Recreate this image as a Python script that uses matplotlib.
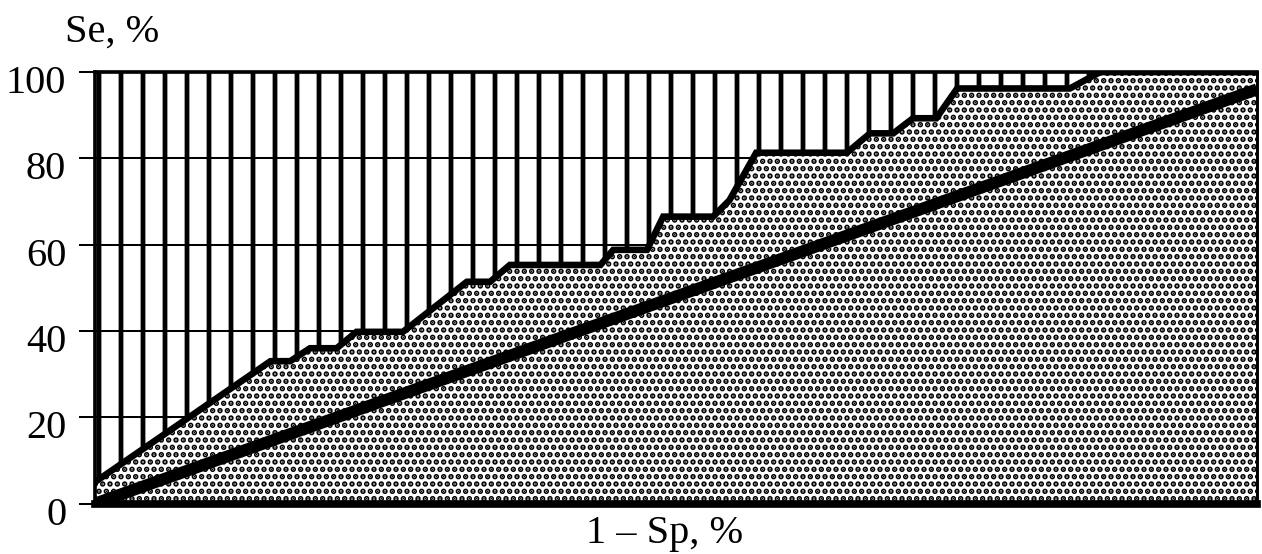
import numpy as np
import matplotlib
matplotlib.use('Agg')
import matplotlib.pyplot as plt
import matplotlib.transforms as mtransforms

plt.rcParams['font.family'] = ['Liberation Serif', 'DejaVu Serif']
plt.rcParams['hatch.color'] = 'black'

# ROC curve points (1 - Sp, Se), %
fpr = [0, 15.1, 16.8, 18.5, 20.8, 22.5, 26.5, 32.0, 34.0, 35.7, 43.5, 44.6, 47.5,
       48.9, 53.2, 54.6, 56.9, 64.7, 66.7, 68.7, 70.4, 72.4, 74.2, 83.9, 86.5, 100]
se = [5.0, 33.0, 33.0, 36.0, 36.0, 39.8, 39.8, 51.4, 51.4, 55.3, 55.3, 58.8, 58.8,
      66.5, 66.5, 70.3, 81.3, 81.3, 85.8, 85.8, 89.3, 89.3, 96.2, 96.2, 100, 100]

# chance line
diag_x = [0, 100]
diag_y = [0, 96]

y_ticks = [0, 20, 40, 60, 80, 100]

dpi = 132
fig = plt.figure(figsize=(1262 / dpi, 554 / dpi), dpi=dpi)
ax = fig.add_axes([0.0753, 0.091, 0.9207, 0.7789])

ax.set_xlim(0, 100)
ax.set_ylim(0, 100)

ax.set_axisbelow(True)
ax.yaxis.grid(True, color='black', linewidth=1.1)

# area above the curve - vertical lines, below - dots
with plt.rc_context({'hatch.linewidth': 2.6}):
    top = ax.fill_between(fpr, se, 100, facecolor='none', edgecolor='black',
                          linewidth=0, hatch='|', zorder=1)
with plt.rc_context({'hatch.linewidth': 2.1}):
    bot = ax.fill_between(fpr, 0, se, facecolor='white', edgecolor='black',
                          linewidth=0, hatch='...', zorder=1.5)
if hasattr(top, 'set_hatch_linewidth'):
    top.set_hatch_linewidth(2.6)
    bot.set_hatch_linewidth(2.1)

ax.plot(fpr, se, color='black', linewidth=3.6, solid_joinstyle='miter', zorder=3)
ax.plot(diag_x, diag_y, color='black', linewidth=6.5, solid_capstyle='butt', zorder=3)

ax.set_xticks([])
ax.set_yticks(y_ticks)
ax.tick_params(axis='y', direction='out', length=8.7, width=1.1, pad=7, labelsize=22)
shift = mtransforms.ScaledTranslation(0, -7 / dpi, fig.dpi_scale_trans)
for lab in ax.get_yticklabels():
    lab.set_transform(lab.get_transform() + shift)

ax.spines['bottom'].set_linewidth(4.2)
ax.spines['top'].set_linewidth(2.0)
ax.spines['left'].set_linewidth(2.0)
ax.spines['right'].set_linewidth(1.6)
for s in ax.spines.values():
    s.set_zorder(4)

fig.text(65 / 1262, 1 - 32 / 554, 'Se, %', fontsize=22, ha='left', va='center')
fig.text(665 / 1262, 1 - 534 / 554, '1 – Sp, %', fontsize=22, ha='center', va='center')

fig.savefig('out.png', dpi=dpi)
